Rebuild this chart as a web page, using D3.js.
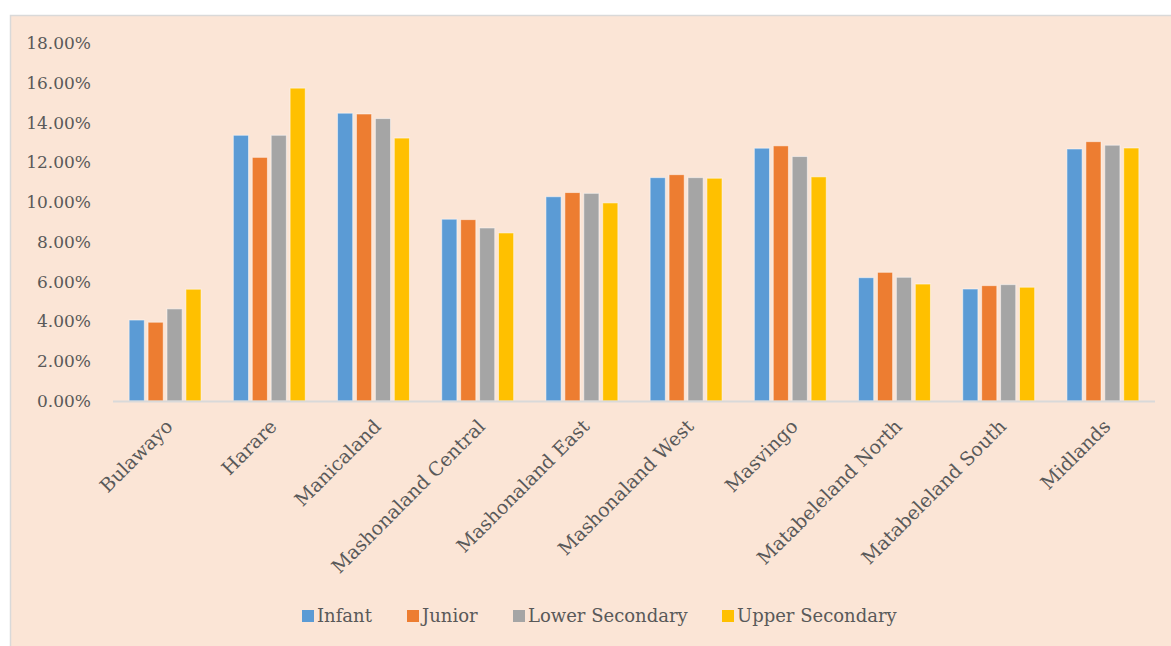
<!DOCTYPE html>
<html>
<head>
<meta charset="utf-8">
<script src="https://cdn.jsdelivr.net/npm/d3@7"></script>
<style>
  body { margin: 0; background: #fff; }
  text { font-family: "DejaVu Serif", "Liberation Serif", serif; fill: #595959; }
</style>
</head>
<body>
<div id="chart"></div>
<script>
const provinces = ["Bulawayo", "Harare", "Manicaland", "Mashonaland Central", "Mashonaland East",
  "Mashonaland West", "Masvingo", "Matabeleland North", "Matabeleland South", "Midlands"];
const seriesNames = ["Infant", "Junior", "Lower Secondary", "Upper Secondary"];
const infant = [4.07, 13.36, 14.47, 9.14, 10.27, 11.23, 12.71, 6.20, 5.63, 12.67];
const junior = [3.96, 12.25, 14.43, 9.12, 10.48, 11.38, 12.83, 6.47, 5.80, 13.04];
const lowerSecondary = [4.63, 13.36, 14.20, 8.70, 10.44, 11.23, 12.29, 6.22, 5.85, 12.86];
const upperSecondary = [5.62, 15.73, 13.22, 8.45, 9.96, 11.20, 11.27, 5.88, 5.72, 12.72];
const yTicks = [0, 2, 4, 6, 8, 10, 12, 14, 16, 18];
const colors = ["#5B9BD5", "#ED7D31", "#A5A5A5", "#FFC000"];

const allSeries = [infant, junior, lowerSecondary, upperSecondary];

const width = 1171, height = 646;
const margin = { left: 113, right: 16, top: 43, bottom: 245 };

const svg = d3.select("#chart").append("svg")
  .attr("width", width)
  .attr("height", height);

// chart background + border
svg.append("rect")
  .attr("x", 10.5).attr("y", 15.5)
  .attr("width", width).attr("height", height)
  .attr("fill", "#FBE5D6")
  .attr("stroke", "#D9D9D9")
  .attr("stroke-width", 1.5);

const x0 = d3.scaleBand()
  .domain(provinces)
  .range([margin.left, width - margin.right]);

const x1 = d3.scaleBand()
  .domain(seriesNames)
  .range([0, x0.bandwidth() * 0.69])
  .paddingInner(0.2);

const y = d3.scaleLinear()
  .domain([0, 18])
  .range([height - margin.bottom, margin.top]);

// y axis labels
const yAxis = svg.append("g")
  .attr("transform", `translate(${margin.left - 22},0)`)
  .call(d3.axisLeft(y).tickValues(yTicks).tickSize(0).tickFormat(d => d.toFixed(2) + "%"));
yAxis.select(".domain").remove();
yAxis.selectAll("text")
  .attr("font-size", 17)
  .attr("x", 0)
  .attr("font-family", "DejaVu Serif, serif")
  .attr("fill", "#595959");

// bars
const groupOffset = (x0.bandwidth() - x1.range()[1]) / 2;
const groups = svg.append("g").selectAll("g")
  .data(provinces)
  .enter().append("g")
  .attr("transform", d => `translate(${x0(d) + groupOffset},0)`);

groups.selectAll("rect")
  .data((d, i) => seriesNames.map((s, j) => ({ series: s, value: allSeries[j][i], color: colors[j] })))
  .enter().append("rect")
  .attr("x", d => x1(d.series))
  .attr("y", d => y(d.value))
  .attr("width", x1.bandwidth())
  .attr("height", d => y(0) - y(d.value))
  .attr("fill", d => d.color)
  .attr("stroke", "#fff")
  .attr("stroke-opacity", 0.5)
  .attr("stroke-width", 1);

// x axis line
svg.append("line")
  .attr("x1", margin.left).attr("x2", width - margin.right)
  .attr("y1", y(0) + 0.5).attr("y2", y(0) + 0.5)
  .attr("stroke", "#D9D9D9")
  .attr("stroke-width", 2);

// category labels
svg.append("g").selectAll("text")
  .data(provinces)
  .enter().append("text")
  .attr("transform", d => `translate(${x0(d) + x0.bandwidth() / 2 + 4},${y(0) + 22}) rotate(-45)`)
  .attr("text-anchor", "end")
  .attr("dy", "0.35em")
  .attr("font-size", 19)
  .text(d => d);

// legend
const legendItems = [
  { name: "Infant", x: 302 },
  { name: "Junior", x: 407 },
  { name: "Lower Secondary", x: 513 },
  { name: "Upper Secondary", x: 722 }
];
const legend = svg.append("g").selectAll("g")
  .data(legendItems)
  .enter().append("g")
  .attr("transform", d => `translate(${d.x},616)`);

legend.append("rect")
  .attr("x", 0).attr("y", -6)
  .attr("width", 12).attr("height", 12)
  .attr("fill", (d, i) => colors[i]);

legend.append("text")
  .attr("x", 15)
  .attr("dy", "0.35em")
  .attr("font-size", 18)
  .text(d => d.name);
</script>
</body>
</html>
